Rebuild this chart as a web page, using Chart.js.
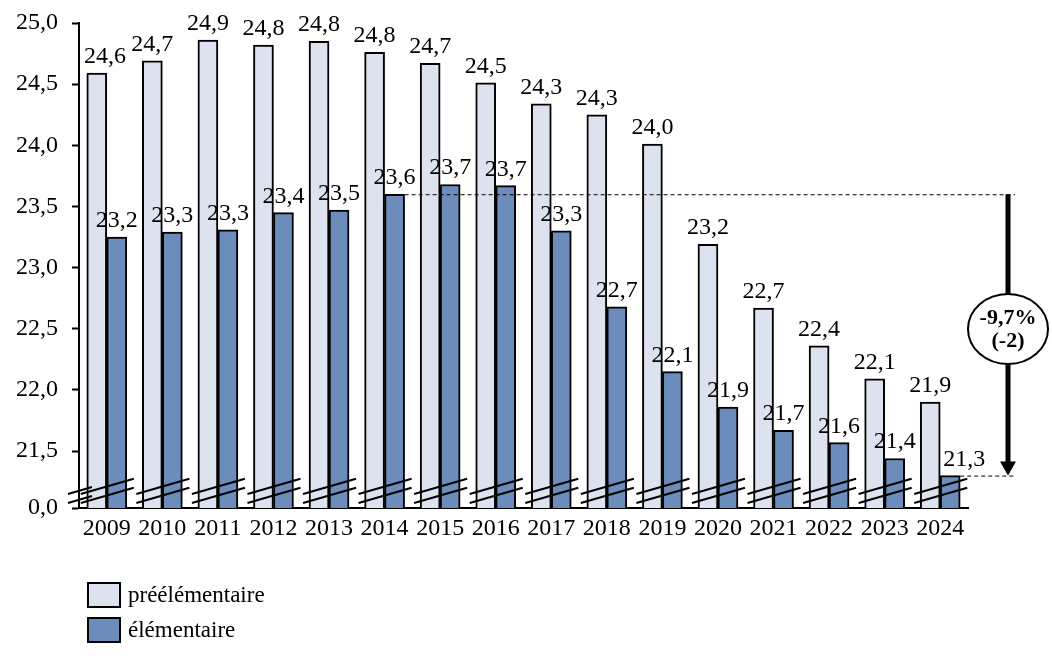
<!DOCTYPE html>
<html>
<head>
<meta charset="utf-8">
<script src="https://cdn.jsdelivr.net/npm/chart.js@4/dist/chart.umd.min.js"></script>
<style>
  html, body { margin: 0; padding: 0; background: #fff; }
  #wrap { width: 1052px; height: 659px; }
</style>
</head>
<body>
<div id="wrap"><canvas id="c" width="1052" height="659"></canvas></div>
<script>
// values (bar tops), labels as printed
const years = ["2009","2010","2011","2012","2013","2014","2015","2016","2017","2018","2019","2020","2021","2022","2023","2024"];
const preElem = [24.59,24.69,24.86,24.82,24.85,24.76,24.67,24.51,24.34,24.25,24.01,23.19,22.67,22.36,22.09,21.90];
const elem    = [23.25,23.29,23.31,23.45,23.47,23.60,23.68,23.67,23.30,22.68,22.15,21.86,21.67,21.57,21.44,21.30];
const preElemLabels = ["24,6","24,7","24,9","24,8","24,8","24,8","24,7","24,5","24,3","24,3","24,0","23,2","22,7","22,4","22,1","21,9"];
const elemLabels    = ["23,2","23,3","23,3","23,4","23,5","23,6","23,7","23,7","23,3","22,7","22,1","21,9","21,7","21,6","21,4","21,3"];
const yTicks = [21.5, 22.0, 22.5, 23.0, 23.5, 24.0, 24.5, 25.0];
const yBreakMin = 21.035;   // axis is broken: bottom shown as 0,0
const evolText = ["-9,7%", "(-2)"];
const evolFrom = 5, evolTo = 15;  // élémentaire 2014 -> 2024

const FONT = "'Liberation Serif', 'Times New Roman', serif";
const LIGHT = "#dde3ee", BLUE = "#6c8cbb";

// value labels above the bars
const barLabels = {
  id: "barLabels",
  afterDatasetsDraw(chart) {
    const ctx = chart.ctx, area = chart.chartArea;
    const sets = [preElemLabels, elemLabels];
    ctx.save();
    ctx.font = "24px " + FONT;
    ctx.fillStyle = "#000";
    ctx.textAlign = "center";
    ctx.textBaseline = "alphabetic";
    sets.forEach((labels, di) => {
      chart.getDatasetMeta(di).data.forEach((bar, i) => {
        let x = bar.x;
        const w = ctx.measureText(labels[i]).width;
        if (x - w / 2 < area.left + 5) x = area.left + 5 + w / 2;
        if (di === 1 && i === labels.length - 1) x += 14;
        ctx.fillText(labels[i], x, bar.y - 10);
      });
    });
    ctx.restore();
  }
};

// axis break marks + evolution annotation + legend
const extras = {
  id: "extras",
  afterDraw(chart) {
    const ctx = chart.ctx, area = chart.chartArea;
    const m0 = chart.getDatasetMeta(0).data, m1 = chart.getDatasetMeta(1).data;
    ctx.save();

    // break marks
    ctx.strokeStyle = "#000";
    ctx.lineWidth = 2;
    const seg = (x1, x2) => {
      const slope = 15 / 52;
      [0, 9].forEach(off => {
        const y1 = 494 + off;
        ctx.beginPath();
        ctx.moveTo(x1, y1);
        ctx.lineTo(x2, y1 - (x2 - x1) * slope);
        ctx.stroke();
      });
    };
    seg(area.left - 11, area.left + 13);
    m0.forEach((b, i) => {
      const l = b.x - b.width / 2 - 6;
      const r = m1[i].x + m1[i].width / 2 + 7;
      seg(l, r);
    });

    // dashed reference lines
    const ax = area.right + 40;
    const yTop = m1[evolFrom].y, yBot = m1[evolTo].y;
    ctx.lineWidth = 1;
    ctx.setLineDash([4, 3]);
    ctx.beginPath();
    ctx.moveTo(m1[evolFrom].x + m1[evolFrom].width / 2, yTop + 0.5);
    ctx.lineTo(ax + 7, yTop + 0.5);
    ctx.moveTo(m1[evolTo].x + m1[evolTo].width / 2, yBot + 0.5);
    ctx.lineTo(ax + 7, yBot + 0.5);
    ctx.stroke();
    ctx.setLineDash([]);

    // arrow
    ctx.lineWidth = 5;
    ctx.beginPath();
    ctx.moveTo(ax, yTop);
    ctx.lineTo(ax, yBot - 12);
    ctx.stroke();
    ctx.fillStyle = "#000";
    ctx.beginPath();
    ctx.moveTo(ax - 8, yBot - 14);
    ctx.lineTo(ax + 8, yBot - 14);
    ctx.lineTo(ax, yBot);
    ctx.closePath();
    ctx.fill();

    // ellipse with text
    const cy = (yTop + yBot) / 2 - 6;
    ctx.lineWidth = 2;
    ctx.fillStyle = "#fff";
    ctx.beginPath();
    ctx.ellipse(ax, cy, 40, 35, 0, 0, Math.PI * 2);
    ctx.fill();
    ctx.stroke();
    ctx.fillStyle = "#000";
    ctx.font = "bold 22px " + FONT;
    ctx.textAlign = "center";
    ctx.textBaseline = "middle";
    ctx.fillText(evolText[0], ax, cy - 11);
    ctx.fillText(evolText[1], ax, cy + 12);

    // legend
    ctx.textAlign = "left";
    ctx.font = "23px " + FONT;
    chart.data.datasets.forEach((ds, i) => {
      const y = 583 + i * 35;
      ctx.fillStyle = ds.backgroundColor;
      ctx.fillRect(88, y, 32, 24);
      ctx.lineWidth = 2;
      ctx.strokeStyle = "#000";
      ctx.strokeRect(88, y, 32, 24);
      ctx.fillStyle = "#000";
      ctx.fillText(ds.label, 128, y + 13);
    });
    ctx.restore();
  }
};

new Chart(document.getElementById("c"), {
  type: "bar",
  data: {
    labels: years,
    datasets: [
      { label: "préélémentaire", data: preElem, backgroundColor: LIGHT, borderColor: "#000", borderWidth: 2, barThickness: 20 },
      { label: "élémentaire", data: elem, backgroundColor: BLUE, borderColor: "#000", borderWidth: 2, barThickness: 20 }
    ]
  },
  options: {
    responsive: false,
    animation: false,
    layout: { padding: { top: 23, right: 84, bottom: 111, left: 0 } },
    plugins: { legend: { display: false }, tooltip: { enabled: false } },
    scales: {
      x: {
        grid: { drawOnChartArea: false, drawTicks: false },
        border: { color: "#000", width: 2 },
        ticks: { color: "#000", font: { family: FONT, size: 24 }, padding: 6, maxRotation: 0, autoSkip: false },
        afterFit(s) { s.height = 40; s.paddingLeft = 0; s.paddingRight = 0; }
      },
      y: {
        min: yBreakMin,
        max: 25,
        grid: { drawOnChartArea: false, drawTicks: true, tickLength: 7, tickColor: "#000", tickWidth: 2 },
        border: { color: "#000", width: 2 },
        afterBuildTicks(s) { s.ticks = [yBreakMin].concat(yTicks).map(v => ({ value: v })); },
        ticks: {
          color: "#000",
          font: { family: FONT, size: 24 },
          padding: 14,
          callback: v => v < yTicks[0] ? "0,0" : v.toFixed(1).replace(".", ",")
        },
        afterFit(s) { s.width = 79; s.paddingTop = 0; s.paddingBottom = 0; }
      }
    }
  },
  plugins: [barLabels, extras]
});
</script>
</body>
</html>
